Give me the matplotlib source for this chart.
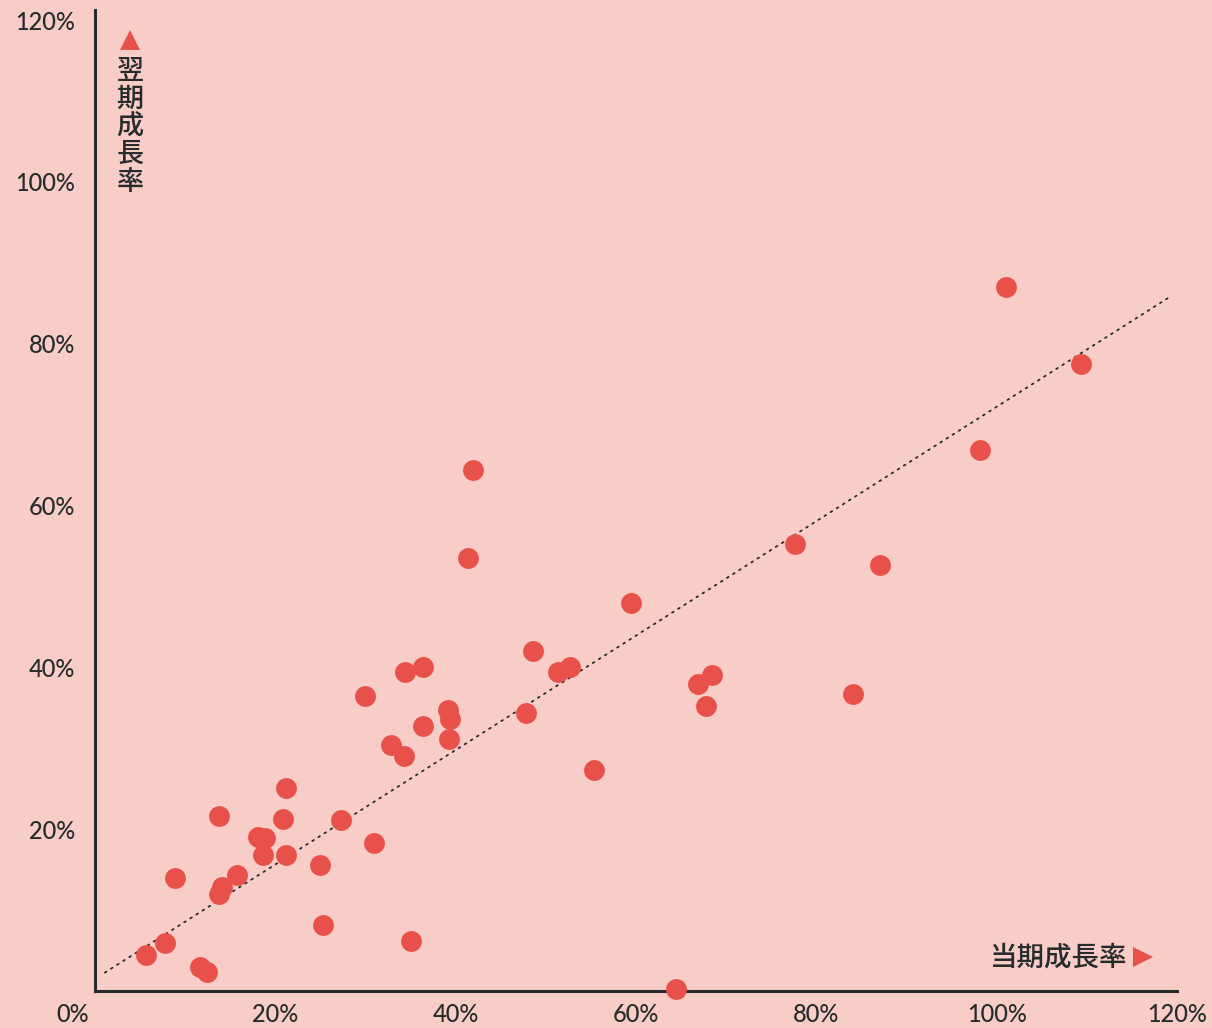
import matplotlib
matplotlib.use("Agg")
import matplotlib.pyplot as plt
import matplotlib.transforms as mtransforms

# Data (percent)
current_growth = [5.7, 7.8, 8.9, 11.7, 12.4, 13.7, 13.7, 14.1, 15.8, 18.1, 18.9, 18.6,
                  20.8, 21.2, 21.2, 24.9, 25.3, 27.3, 29.9, 30.9, 32.8, 34.3, 34.4, 35.0,
                  36.4, 36.4, 39.2, 39.4, 39.3, 41.4, 41.9, 47.8, 48.6, 51.3, 52.7, 55.3,
                  59.4, 64.4, 66.9, 67.8, 68.4, 77.6, 84.1, 87.1, 98.1, 101.0, 109.3]
next_growth = [4.4, 5.9, 14.0, 3.0, 2.3, 21.6, 12.0, 12.8, 14.3, 19.0, 18.9, 16.8,
               21.2, 25.1, 16.8, 15.6, 8.1, 21.1, 36.5, 18.3, 30.4, 29.0, 39.4, 6.2,
               40.0, 32.8, 34.7, 33.6, 31.1, 53.5, 64.4, 34.4, 42.0, 39.4, 40.1, 27.3,
               47.9, 0.2, 38.0, 35.2, 39.0, 55.3, 36.7, 52.7, 66.9, 87.0, 77.5]
trend_slope = 0.707
trend_intercept = 1.5
trend_x = [1.1, 119.4]
tick_values = [0, 20, 40, 60, 80, 100, 120]
tick_labels = ["0%", "20%", "40%", "60%", "80%", "100%", "120%"]
x_label = "当期成長率"
y_label = "翌期成長率"

BG = "#F8CCC7"
RED = "#E8514A"
DARK = "#262C2C"

W, H = 1212, 1028
fig = plt.figure(figsize=(W / 100, H / 100), dpi=100, facecolor=BG)
left, right, bottom, top = 95, 1177, 991, 10
ax = fig.add_axes([left / W, 1 - bottom / H, (right - left) / W, (bottom - top) / H])
ax.set_facecolor(BG)

ax.set_xlim(0, 120)
ax.set_ylim(0, 120 * (bottom - top) / (bottom - 20))

trend_y = [trend_slope * v + trend_intercept for v in trend_x]
ax.plot(trend_x, trend_y, color=DARK, lw=1.3, linestyle=(0, (1, 3)),
        dash_capstyle="round", zorder=2)
ax.scatter(current_growth, next_growth, s=225, color=RED, linewidths=0, zorder=3,
           clip_on=False)

for s in ["top", "right"]:
    ax.spines[s].set_visible(False)
for s in ["left", "bottom"]:
    ax.spines[s].set_color(DARK)
    ax.spines[s].set_linewidth(2.2)

tick_font = dict(family="Lato", size=17, color=DARK, weight="medium")
ax.set_xticks(tick_values)
ax.set_xticklabels(tick_labels, **tick_font)
ax.set_yticks(tick_values[1:])
ax.set_yticklabels(tick_labels[1:], **tick_font)
ax.tick_params(axis="both", length=0)
ax.tick_params(axis="x", pad=9)
ax.tick_params(axis="y", pad=14)

# shift the 0% label left so it clears the axis
lbl0 = ax.get_xticklabels()[0]
lbl0.set_horizontalalignment("right")
lbl0.set_transform(lbl0.get_transform() + mtransforms.ScaledTranslation(-4 / 72, 0, fig.dpi_scale_trans))

cjk = ["Noto Sans CJK JP", "DejaVu Sans"]
# vertical y label
ax.text(0.0325, 0.951, "\n".join(y_label), transform=ax.transAxes, family=cjk,
        fontsize=19.5, color=DARK, ha="center", va="top", linespacing=1.03,
        weight="medium")
ax.plot([0.0325], [0.969], transform=ax.transAxes, marker="^", markersize=15,
        color=RED, markeredgewidth=0, clip_on=False)

# x label
ax.text(0.954, 0.0345, x_label, transform=ax.transAxes, family=cjk,
        fontsize=19.8, color=DARK, ha="right", va="center", weight="medium")
ax.plot([0.9685], [0.0345], transform=ax.transAxes, marker=">", markersize=14,
        color=RED, markeredgewidth=0, clip_on=False)

fig.savefig("out.png", dpi=100, facecolor=BG)
